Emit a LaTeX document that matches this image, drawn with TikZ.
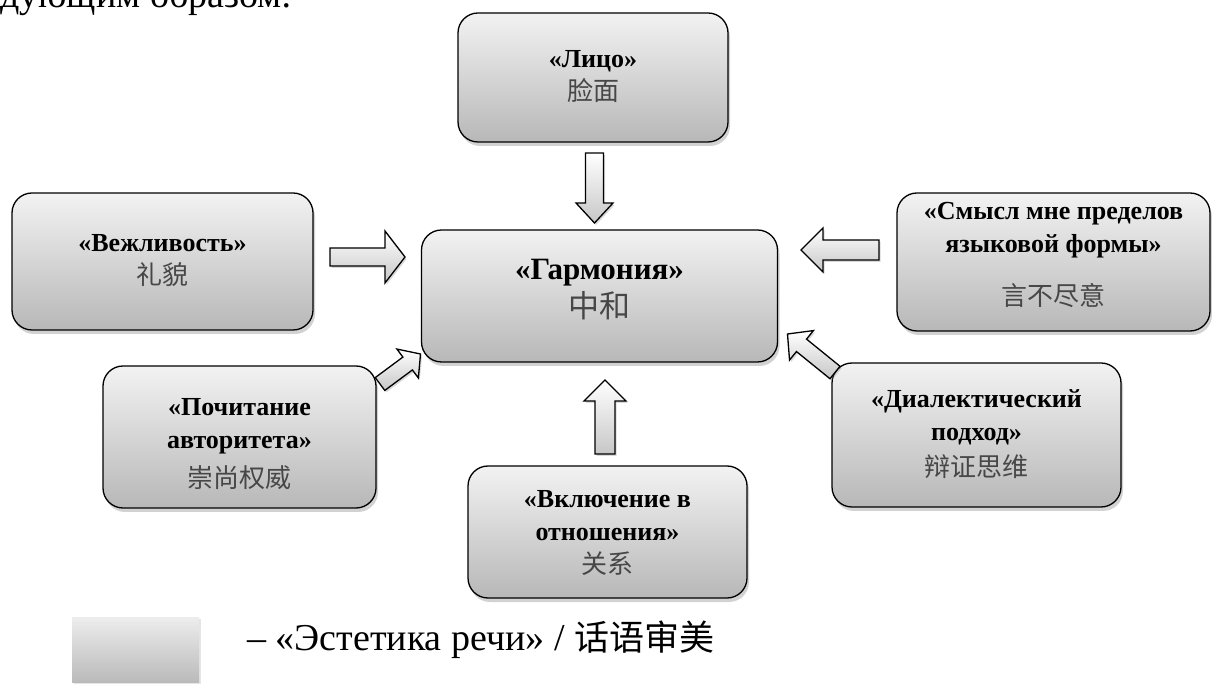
\documentclass[tikz,border=0pt]{standalone}
\usepackage{fontspec}
\setmainfont{Liberation Serif}
\newfontfamily\cjk{Noto Sans CJK SC}
\usetikzlibrary{calc,shadows}
\tikzset{
  box/.style={draw=black, line width=1.3pt, rounded corners=20pt,
    top color=black!5, bottom color=black!28, inner sep=2pt,
    font=\fontsize{26}{33}\selectfont\bfseries,
    drop shadow={shadow xshift=2pt, shadow yshift=-4pt, opacity=0.35}},
  bigbox/.style={box, font=\fontsize{31}{38}\selectfont\bfseries},
  legbox/.style={draw=none, top color=black!7, bottom color=black!27,
    drop shadow={shadow xshift=1.5pt, shadow yshift=-2pt, opacity=0.2}},
  barrow/.style={draw=black, line width=1.3pt, line join=miter,
    top color=white, bottom color=black!22,
    drop shadow={shadow xshift=1.5pt, shadow yshift=-2pt, opacity=0.3}},
  plain/.style={inner sep=0pt, font=\fontsize{38}{42}\selectfont}
}
\newcommand{\zh}[1]{{\mdseries\cjk\color{black!72}#1}}
% box text: #1 vertical lift, #2 lines
\newcommand{\bt}[2]{\raisebox{#1}[\height][\depth]{\begin{tabular}{@{}c@{}}#2\end{tabular}}}
% #1 tail, #2 tip, #3 shaft half width, #4 head half width, #5 head length
\newcommand{\blockarrow}[5]{%
  \coordinate (h-#1) at ($(#2)!#5!(#1)$);
  \path[barrow] ($(#1)!#3!90:(#2)$) -- ($(h-#1)!#3!90:(#2)$) -- ($(h-#1)!#4!90:(#2)$)
    -- (#2) -- ($(h-#1)!#4!-90:(#2)$) -- ($(h-#1)!#3!-90:(#2)$) -- ($(#1)!#3!-90:(#2)$) -- cycle;}
\begin{document}
\begin{tikzpicture}[x=1pt, y=1pt]
\useasboundingbox (0,0) rectangle (1212,688);
\fill[white] (0,0) rectangle (1212,688);

\node[plain, anchor=base west] (toptext) at (0,680) {дующим образом:};

\node[box, minimum width=270pt, minimum height=129pt] (lico) at (593,610.5) {\bt{0pt}{«Лицо»\\\zh{脸面}}};
\node[bigbox, minimum width=356pt, minimum height=132pt] (garm) at (599.5,392) {\bt{5pt}{«Гармония»\\\zh{中和}}};
\node[box, minimum width=301pt, minimum height=137pt] (vezh) at (162.5,426.5) {\bt{0pt}{«Вежливость»\\\zh{礼貌}}};
\node[box, minimum width=313pt, minimum height=138pt] (smysl) at (1053.5,426) {\bt{6pt}{«Смысл мне пределов\\языковой формы»\\[20pt]\zh{言不尽意}}};
\node[box, minimum width=273pt, minimum height=142pt] (poch) at (239.5,251) {\bt{-8pt}{«Почитание\\авторитета»\\[6pt]\zh{崇尚权威}}};
\node[box, minimum width=289pt, minimum height=144pt] (dial) at (976.5,253) {\bt{0pt}{«Диалектический\\подход»\\[3pt]\zh{辩证思维}}};
\node[box, minimum width=279pt, minimum height=132pt] (vkl) at (607.5,156) {\bt{-2pt}{«Включение в\\отношения»\\\zh{关系}}};

\coordinate (t1) at (594.5,535); \coordinate (e1) at (594.5,465);
\coordinate (t2) at (330,431);   \coordinate (e2) at (405,431);
\coordinate (t3) at (879,438);   \coordinate (e3) at (801,438);
\coordinate (t4) at (605,234);   \coordinate (e4) at (605,308);
\coordinate (t5) at (380,304);   \coordinate (e5) at (420.5,334);
\coordinate (t6) at (835,315.5); \coordinate (e6) at (787.5,354);
\blockarrow{t1}{e1}{9pt}{18.5pt}{20pt}
\blockarrow{t2}{e2}{9pt}{26pt}{20pt}
\blockarrow{t3}{e3}{10pt}{22pt}{22pt}
\blockarrow{t4}{e4}{10pt}{21pt}{21pt}
\blockarrow{t5}{e5}{8pt}{18pt}{16pt}
\blockarrow{t6}{e6}{8pt}{19pt}{18pt}

\node[legbox, minimum width=127pt, minimum height=65pt, inner sep=0pt] (leg) at (135.5,38.5) {};
\node[plain, anchor=base west] (legtext) at (247,38) {– «Эстетика речи» / {\cjk\fontsize{35}{40}\selectfont 话语审美}};
\end{tikzpicture}
\end{document}
